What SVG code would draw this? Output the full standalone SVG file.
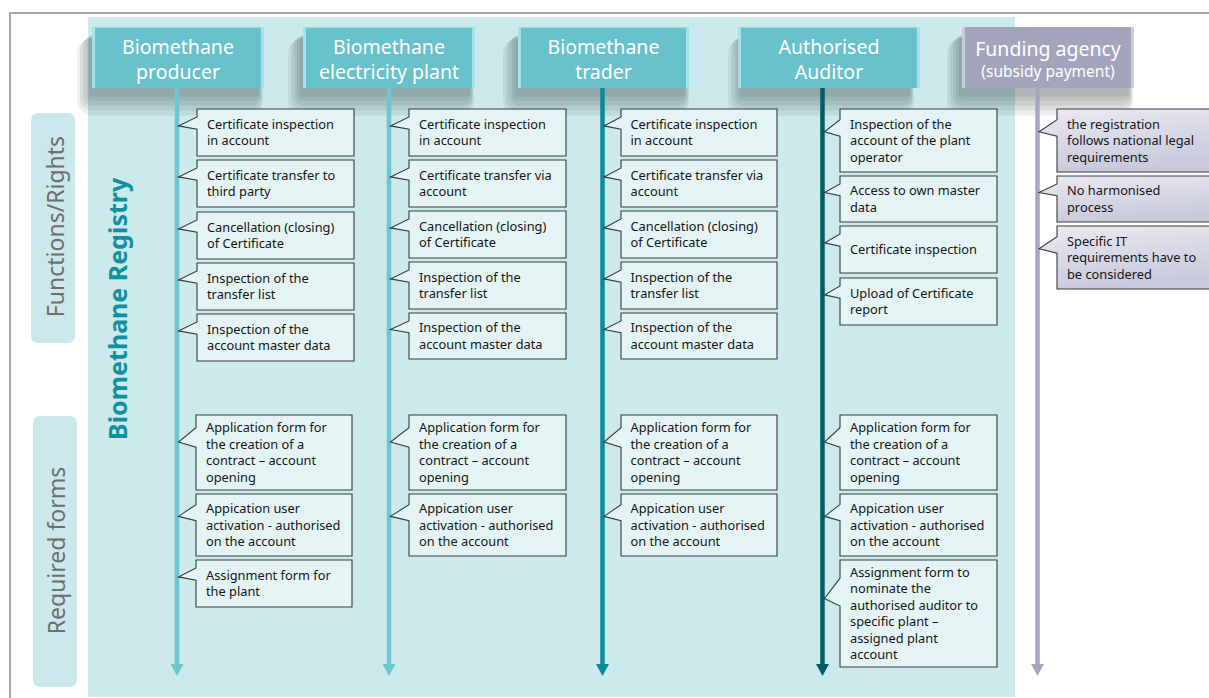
<svg xmlns="http://www.w3.org/2000/svg" width="1209" height="698" viewBox="0 0 1209 698">
<defs>
<style>
.hdr{font-family:"Noto Sans","DejaVu Sans",sans-serif;font-size:19.5px;fill:#ffffff;text-anchor:middle}
.sub{font-size:15.5px}
.co{fill:#E4F4F5;stroke:#3a3a3a;stroke-width:1.1}
.cof{fill:url(#lav);stroke:#3a3a3a;stroke-width:1.1}
.ct{font-family:"Noto Sans","DejaVu Sans",sans-serif;font-size:12.8px;fill:#151515}
.side{font-family:"Noto Sans","DejaVu Sans",sans-serif;font-size:23px;fill:#6e6e6e;text-anchor:middle}
.sidebox{fill:#CBE9EC}
.hb{fill:#67C2CB}
.hbf{fill:#A3A5BD}
.s{fill:#2a3638;opacity:0.085}
.edge{fill:#A6E3E8}
.edgef{fill:#C9CADB}
.ln{stroke-width:4.5;fill:none}
</style>
<linearGradient id="lav" x1="0" y1="0" x2="0.25" y2="1">
<stop offset="0" stop-color="#EAEAF2"/>
<stop offset="1" stop-color="#C8C9DB"/>
</linearGradient>
<g id="shadow">
<rect class="s" x="-3" y="8" width="170" height="61" rx="3"/>
<rect class="s" x="-6" y="8" width="174" height="65" rx="6"/>
<rect class="s" x="-9" y="9" width="178" height="69" rx="9"/>
<rect class="s" x="-12" y="10" width="182" height="73" rx="12"/>
<rect class="s" x="-15" y="11" width="186" height="77" rx="15"/>
</g>
<marker id="aL" markerUnits="userSpaceOnUse" markerWidth="13" markerHeight="13" refX="1" refY="6.5" orient="auto"><path d="M0,0 L12,6.5 L0,13 z" fill="#6EC6CF"/></marker>
<marker id="aM" markerUnits="userSpaceOnUse" markerWidth="13" markerHeight="13" refX="1" refY="6.5" orient="auto"><path d="M0,0 L12,6.5 L0,13 z" fill="#0A8A9B"/></marker>
<marker id="aD" markerUnits="userSpaceOnUse" markerWidth="13" markerHeight="13" refX="1" refY="6.5" orient="auto"><path d="M0,0 L12,6.5 L0,13 z" fill="#005C68"/></marker>
<marker id="aP" markerUnits="userSpaceOnUse" markerWidth="13" markerHeight="13" refX="1" refY="6.5" orient="auto"><path d="M0,0 L12,6.5 L0,13 z" fill="#A5A7C0"/></marker>
</defs>

<rect x="0" y="0" width="1209" height="698" fill="#ffffff"/>
<rect id="registry-bg" x="88" y="17" width="927" height="680" fill="#CCEAEC"/>
<path d="M10,698 V13 H1209" fill="none" stroke="#A6A6A6" stroke-width="2"/>

<g id="label-functions">
<rect class="sidebox" x="31" y="113" width="44" height="230" rx="7"/>
<text class="side" transform="translate(63.5,226.5) rotate(-90)">Functions/Rights</text>
</g>
<g id="label-forms">
<rect class="sidebox" x="33" y="416" width="44" height="271" rx="7"/>
<text class="side" transform="translate(64.5,550.5) rotate(-90)">Required forms</text>
</g>
<g id="label-registry">
<text transform="translate(127,440) rotate(-90)" font-family="'Noto Sans','DejaVu Sans',sans-serif" font-weight="bold" font-size="25" fill="#1190A0">Biomethane Registry</text>
</g>

<g id="header-shadows">
<use href="#shadow" x="92" y="27.5"/>
<use href="#shadow" x="303" y="27.5"/>
<use href="#shadow" x="518" y="27.5"/>
<use href="#shadow" x="743" y="27.5"/>
<use href="#shadow" x="962" y="27.5"/>
</g>

<g id="hdr-producer">
<rect class="hb" x="92" y="27.5" width="172" height="60.5"/>
<rect class="edge" x="92" y="27.5" width="3" height="60.5"/><rect class="edge" x="261" y="27.5" width="3" height="60.5"/>
<text class="hdr" x="178" y="54">Biomethane</text><text class="hdr" x="178" y="78.5">producer</text>
</g>
<g id="hdr-electricity">
<rect class="hb" x="303" y="27.5" width="172" height="60.5"/>
<rect class="edge" x="303" y="27.5" width="3" height="60.5"/><rect class="edge" x="472" y="27.5" width="3" height="60.5"/>
<text class="hdr" x="389" y="54">Biomethane</text><text class="hdr" x="389" y="78.5">electricity plant</text>
</g>
<g id="hdr-trader">
<rect class="hb" x="518" y="27.5" width="171" height="60.5"/>
<rect class="edge" x="518" y="27.5" width="3" height="60.5"/><rect class="edge" x="686" y="27.5" width="3" height="60.5"/>
<text class="hdr" x="603.5" y="54">Biomethane</text><text class="hdr" x="603.5" y="78.5">trader</text>
</g>
<g id="hdr-auditor">
<rect class="hb" x="738" y="27.5" width="182" height="60.5"/>
<rect class="edge" x="738" y="27.5" width="3" height="60.5"/><rect class="edge" x="917" y="27.5" width="3" height="60.5"/>
<text class="hdr" x="829" y="54">Authorised</text><text class="hdr" x="829" y="78.5">Auditor</text>
</g>
<g id="hdr-funding">
<rect class="hbf" x="962" y="27" width="172" height="61"/>
<rect class="edgef" x="962" y="27" width="3" height="61"/><rect class="edgef" x="1131" y="27" width="3" height="61"/>
<text class="hdr" x="1048" y="55.5">Funding agency</text><text class="hdr sub" x="1048" y="77">(subsidy payment)</text>
</g>

<g id="connectors">
<line class="ln" x1="177" y1="88" x2="177" y2="665" stroke="#6EC6CF" marker-end="url(#aL)"/>
<line class="ln" x1="389" y1="88" x2="389" y2="665" stroke="#6EC6CF" marker-end="url(#aL)"/>
<line class="ln" x1="602.5" y1="88" x2="602.5" y2="665" stroke="#0A8A9B" marker-end="url(#aM)"/>
<line class="ln" x1="822.5" y1="88" x2="822.5" y2="665" stroke="#005C68" marker-end="url(#aD)"/>
<line class="ln" x1="1037.5" y1="88" x2="1037.5" y2="665" stroke="#A5A7C0" marker-end="url(#aP)"/>
</g>

<!-- Column 1: producer -->
<g id="c1-1"><path class="co" d="M197,109 h157 v47 h-157 v-26.8 l-18.5,-3.3 l18.5,-8.9 z"/>
<text class="ct"><tspan x="207" y="128.8">Certificate inspection</tspan><tspan x="207" y="145.3">in account</tspan></text></g>
<g id="c1-2"><path class="co" d="M197,160 h157 v47 h-157 v-26.8 l-18.5,-3.3 l18.5,-8.9 z"/>
<text class="ct"><tspan x="207" y="179.8">Certificate transfer to</tspan><tspan x="207" y="196.3">third party</tspan></text></g>
<g id="c1-3"><path class="co" d="M197,212 h157 v47 h-157 v-26.8 l-18.5,-3.3 l18.5,-8.9 z"/>
<text class="ct"><tspan x="207" y="231.8">Cancellation (closing)</tspan><tspan x="207" y="248.3">of Certificate</tspan></text></g>
<g id="c1-4"><path class="co" d="M197,263 h157 v47 h-157 v-26.8 l-18.5,-3.3 l18.5,-8.9 z"/>
<text class="ct"><tspan x="207" y="282.8">Inspection of the</tspan><tspan x="207" y="299.3">transfer list</tspan></text></g>
<g id="c1-5"><path class="co" d="M197,314 h157 v47 h-157 v-26.8 l-18.5,-3.3 l18.5,-8.9 z"/>
<text class="ct"><tspan x="207" y="333.8">Inspection of the</tspan><tspan x="207" y="350.3">account master data</tspan></text></g>
<g id="c1-6"><path class="co" d="M196,415 h156 v75 h-156 v-42.75 l-17.5,-5.25 l17.5,-14.25 z"/>
<text class="ct"><tspan x="206" y="432.3">Application form for</tspan><tspan x="206" y="448.8">the creation of a</tspan><tspan x="206" y="465.3">contract – account</tspan><tspan x="206" y="481.8">opening</tspan></text></g>
<g id="c1-7"><path class="co" d="M196,494 h156 v62 h-156 v-35.3 l-17.5,-4.3 l17.5,-11.8 z"/>
<text class="ct"><tspan x="206" y="513">Appication user</tspan><tspan x="206" y="529.5">activation - authorised</tspan><tspan x="206" y="546">on the account</tspan></text></g>
<g id="c1-8"><path class="co" d="M196,560 h156 v47 h-156 v-26.8 l-17.5,-3.3 l17.5,-8.9 z"/>
<text class="ct"><tspan x="206" y="579.8">Assignment form for</tspan><tspan x="206" y="596.3">the plant</tspan></text></g>

<!-- Column 2: electricity plant -->
<g id="c2-1"><path class="co" d="M409,109 h157 v47 h-157 v-26.8 l-18.5,-3.3 l18.5,-8.9 z"/>
<text class="ct"><tspan x="419" y="128.8">Certificate inspection</tspan><tspan x="419" y="145.3">in account</tspan></text></g>
<g id="c2-2"><path class="co" d="M409,160 h157 v47 h-157 v-26.8 l-18.5,-3.3 l18.5,-8.9 z"/>
<text class="ct"><tspan x="419" y="179.8">Certificate transfer via</tspan><tspan x="419" y="196.3">account</tspan></text></g>
<g id="c2-3"><path class="co" d="M409,211 h157 v47 h-157 v-26.8 l-18.5,-3.3 l18.5,-8.9 z"/>
<text class="ct"><tspan x="419" y="230.8">Cancellation (closing)</tspan><tspan x="419" y="247.3">of Certificate</tspan></text></g>
<g id="c2-4"><path class="co" d="M409,262 h157 v47 h-157 v-26.8 l-18.5,-3.3 l18.5,-8.9 z"/>
<text class="ct"><tspan x="419" y="281.8">Inspection of the</tspan><tspan x="419" y="298.3">transfer list</tspan></text></g>
<g id="c2-5"><path class="co" d="M409,313 h157 v46 h-157 v-26.2 l-18.5,-3.2 l18.5,-8.7 z"/>
<text class="ct"><tspan x="419" y="332.3">Inspection of the</tspan><tspan x="419" y="348.8">account master data</tspan></text></g>
<g id="c2-6"><path class="co" d="M409,415 h157 v75 h-157 v-42.75 l-18.5,-5.25 l18.5,-14.25 z"/>
<text class="ct"><tspan x="419" y="432.3">Application form for</tspan><tspan x="419" y="448.8">the creation of a</tspan><tspan x="419" y="465.3">contract – account</tspan><tspan x="419" y="481.8">opening</tspan></text></g>
<g id="c2-7"><path class="co" d="M409,494 h157 v62 h-157 v-35.3 l-18.5,-4.3 l18.5,-11.8 z"/>
<text class="ct"><tspan x="419" y="513">Appication user</tspan><tspan x="419" y="529.5">activation - authorised</tspan><tspan x="419" y="546">on the account</tspan></text></g>

<!-- Column 3: trader -->
<g id="c3-1"><path class="co" d="M621,109 h156 v47 h-156 v-26.8 l-17,-3.3 l17,-8.9 z"/>
<text class="ct"><tspan x="630.5" y="128.8">Certificate inspection</tspan><tspan x="630.5" y="145.3">in account</tspan></text></g>
<g id="c3-2"><path class="co" d="M621,160 h156 v47 h-156 v-26.8 l-17,-3.3 l17,-8.9 z"/>
<text class="ct"><tspan x="630.5" y="179.8">Certificate transfer via</tspan><tspan x="630.5" y="196.3">account</tspan></text></g>
<g id="c3-3"><path class="co" d="M621,211 h156 v47 h-156 v-26.8 l-17,-3.3 l17,-8.9 z"/>
<text class="ct"><tspan x="630.5" y="230.8">Cancellation (closing)</tspan><tspan x="630.5" y="247.3">of Certificate</tspan></text></g>
<g id="c3-4"><path class="co" d="M621,262 h156 v47 h-156 v-26.8 l-17,-3.3 l17,-8.9 z"/>
<text class="ct"><tspan x="630.5" y="281.8">Inspection of the</tspan><tspan x="630.5" y="298.3">transfer list</tspan></text></g>
<g id="c3-5"><path class="co" d="M621,313 h156 v46 h-156 v-26.2 l-17,-3.2 l17,-8.7 z"/>
<text class="ct"><tspan x="630.5" y="332.3">Inspection of the</tspan><tspan x="630.5" y="348.8">account master data</tspan></text></g>
<g id="c3-6"><path class="co" d="M621,415 h156 v75 h-156 v-42.75 l-17,-5.25 l17,-14.25 z"/>
<text class="ct"><tspan x="630.5" y="432.3">Application form for</tspan><tspan x="630.5" y="448.8">the creation of a</tspan><tspan x="630.5" y="465.3">contract – account</tspan><tspan x="630.5" y="481.8">opening</tspan></text></g>
<g id="c3-7"><path class="co" d="M621,494 h156 v62 h-156 v-35.3 l-17,-4.3 l17,-11.8 z"/>
<text class="ct"><tspan x="630.5" y="513">Appication user</tspan><tspan x="630.5" y="529.5">activation - authorised</tspan><tspan x="630.5" y="546">on the account</tspan></text></g>

<!-- Column 4: auditor -->
<g id="c4-1"><path class="co" d="M840,109 h157 v63 h-157 v-35.9 l-15.5,-4.4 l15.5,-12 z"/>
<text class="ct"><tspan x="850" y="128.5">Inspection of the</tspan><tspan x="850" y="145">account of the plant</tspan><tspan x="850" y="161.5">operator</tspan></text></g>
<g id="c4-2"><path class="co" d="M840,176 h157 v46 h-157 v-26.2 l-15.5,-3.2 l15.5,-8.7 z"/>
<text class="ct"><tspan x="850" y="195.3">Access to own master</tspan><tspan x="850" y="211.8">data</tspan></text></g>
<g id="c4-3"><path class="co" d="M840,226 h157 v47 h-157 v-26.8 l-15.5,-3.3 l15.5,-8.9 z"/>
<text class="ct"><tspan x="850" y="254">Certificate inspection</tspan></text></g>
<g id="c4-4"><path class="co" d="M840,278 h157 v47 h-157 v-26.8 l-15.5,-3.3 l15.5,-8.9 z"/>
<text class="ct"><tspan x="850" y="297.8">Upload of Certificate</tspan><tspan x="850" y="314.3">report</tspan></text></g>
<g id="c4-5"><path class="co" d="M840,415 h157 v75 h-157 v-42.75 l-15.5,-5.25 l15.5,-14.25 z"/>
<text class="ct"><tspan x="850" y="432.3">Application form for</tspan><tspan x="850" y="448.8">the creation of a</tspan><tspan x="850" y="465.3">contract – account</tspan><tspan x="850" y="481.8">opening</tspan></text></g>
<g id="c4-6"><path class="co" d="M840,494 h157 v62 h-157 v-35.3 l-15.5,-4.3 l15.5,-11.8 z"/>
<text class="ct"><tspan x="850" y="513">Appication user</tspan><tspan x="850" y="529.5">activation - authorised</tspan><tspan x="850" y="546">on the account</tspan></text></g>
<g id="c4-7"><path class="co" d="M840,560 h157 v107 h-157 v-61 l-15.5,-7.5 l15.5,-20.3 z"/>
<text class="ct"><tspan x="850" y="576.8">Assignment form to</tspan><tspan x="850" y="593.3">nominate the</tspan><tspan x="850" y="609.8">authorised auditor to</tspan><tspan x="850" y="626.3">specific plant –</tspan><tspan x="850" y="642.8">assigned plant</tspan><tspan x="850" y="659.3">account</tspan></text></g>

<!-- Column 5: funding agency -->
<g id="c5-1"><path class="cof" d="M1057,109 h157 v63 h-157 v-35.9 l-18,-4.4 l18,-12 z"/>
<text class="ct"><tspan x="1067" y="128.5">the registration</tspan><tspan x="1067" y="145">follows national legal</tspan><tspan x="1067" y="161.5">requirements</tspan></text></g>
<g id="c5-2"><path class="cof" d="M1057,176 h157 v46 h-157 v-26.2 l-18,-3.2 l18,-8.7 z"/>
<text class="ct"><tspan x="1067" y="195.3">No harmonised</tspan><tspan x="1067" y="211.8">process</tspan></text></g>
<g id="c5-3"><path class="cof" d="M1057,226 h157 v63 h-157 v-35.9 l-18,-4.4 l18,-12 z"/>
<text class="ct"><tspan x="1067" y="245.5">Specific IT</tspan><tspan x="1067" y="262">requirements have to</tspan><tspan x="1067" y="278.5">be considered</tspan></text></g>
</svg>
